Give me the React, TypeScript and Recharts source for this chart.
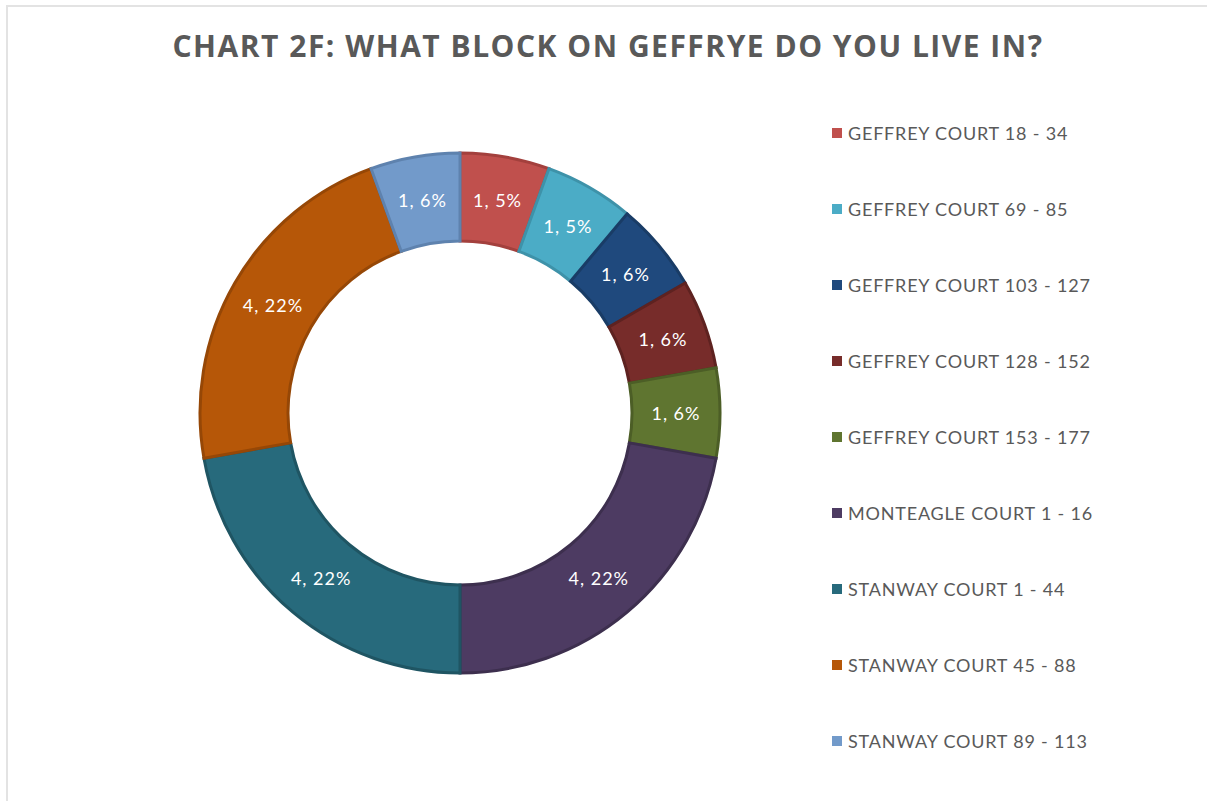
import { Cell, Legend, Pie, PieChart } from 'recharts'

const BLOCKS = [
  'GEFFREY COURT 18 - 34',
  'GEFFREY COURT 69 - 85',
  'GEFFREY COURT 103 - 127',
  'GEFFREY COURT 128 - 152',
  'GEFFREY COURT 153 - 177',
  'MONTEAGLE COURT 1 - 16',
  'STANWAY COURT 1 - 44',
  'STANWAY COURT 45 - 88',
  'STANWAY COURT 89 - 113',
]
const RESIDENTS = [1, 1, 1, 1, 1, 4, 4, 4, 1]
const PERCENT_LABELS = ['5%', '5%', '6%', '6%', '6%', '22%', '22%', '22%', '6%']

const COLORS = ['#C0504D', '#4BACC6', '#1F497D', '#772C2A', '#5F7530', '#4D3B62', '#276A7C', '#B65708', '#729ACA']
const EDGES = ['#A3403D', '#3E92A9', '#193C66', '#5E2220', '#4C5E26', '#3D2F4E', '#1F5563', '#964706', '#5E82AE']

const FONT = 'Lato, "Open Sans", sans-serif'

const data = BLOCKS.map((name, i) => ({ name, value: RESIDENTS[i], pct: PERCENT_LABELS[i] }))

const RADIAN = Math.PI / 180

function renderLabel(props: any) {
  const { cx, cy, midAngle, innerRadius, outerRadius, index } = props
  const r = (innerRadius + outerRadius) / 2
  const x = cx + r * Math.cos(-midAngle * RADIAN)
  const y = cy + r * Math.sin(-midAngle * RADIAN)
  const d = data[index]
  return (
    <text
      x={x}
      y={y}
      fill="#ffffff"
      textAnchor="middle"
      dominantBaseline="central"
      fontSize={18}
      letterSpacing={1}
      fontFamily={FONT}
    >
      {`${d.value}, ${d.pct}`}
    </text>
  )
}

function LegendList() {
  return (
    <div style={{ fontFamily: FONT, fontSize: 18, letterSpacing: 0.8, color: '#595959' }}>
      {data.map((d, i) => (
        <div key={d.name} style={{ height: 76, display: 'flex', alignItems: 'flex-start' }}>
          <span style={{ width: 10, height: 10, background: COLORS[i], marginTop: 6, marginRight: 6, display: 'inline-block' }} />
          <span style={{ lineHeight: '22px', whiteSpace: 'nowrap' }}>{d.name}</span>
        </div>
      ))}
    </div>
  )
}

export default function App() {
  return (
    <div style={{ position: 'absolute', left: 0, top: 0, width: 1207, height: 801, background: '#fff', overflow: 'hidden' }}>
      <div style={{ position: 'absolute', left: 6, top: 5, width: 1300, height: 900, borderLeft: '2px solid #e3e3e3', borderTop: '2px solid #e3e3e3' }} />
      <div
        style={{
          position: 'absolute',
          left: 0,
          top: 25,
          width: 1216,
          textAlign: 'center',
          fontFamily: '"Open Sans", sans-serif',
          fontWeight: 700,
          fontSize: 30,
          letterSpacing: 1.5,
          color: '#595959',
        }}
      >
        CHART 2F: WHAT BLOCK ON GEFFRYE DO YOU LIVE IN?
      </div>
      <div style={{ position: 'absolute', left: 0, top: 0 }}>
        <PieChart width={1207} height={801} margin={{ top: 0, right: 0, bottom: 0, left: 0 }}>
          <Pie
            data={data}
            dataKey="value"
            nameKey="name"
            cx={460}
            cy={413}
            innerRadius={172}
            outerRadius={260}
            startAngle={90}
            endAngle={-270}
            label={renderLabel}
            labelLine={false}
            isAnimationActive={false}
          >
            {data.map((d, i) => (
              <Cell key={d.name} fill={COLORS[i]} stroke={EDGES[i]} strokeWidth={3} />
            ))}
          </Pie>
          <Legend
            layout="vertical"
            align="right"
            verticalAlign="top"
            content={() => <LegendList />}
            wrapperStyle={{ left: 832, top: 122, width: 360 }}
          />
        </PieChart>
      </div>
    </div>
  )
}
